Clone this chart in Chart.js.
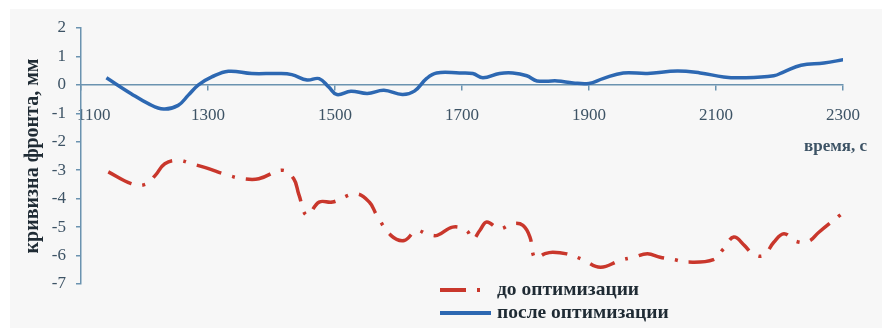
<!DOCTYPE html>
<html>
<head>
<meta charset="utf-8">
<script src="https://cdn.jsdelivr.net/npm/chart.js@4/dist/chart.umd.min.js"></script>
<style>
html, body { margin: 0; padding: 0; background: #fff; }
#wrap { position: relative; width: 882px; height: 328px; overflow: hidden; }
#paper { position: absolute; left: 10px; top: 9px; right: 0; bottom: 0; background: #f7f7f7; }
canvas { position: absolute; left: 0; top: 0; }
</style>
</head>
<body>
<div id="wrap">
  <div id="paper"></div>
  <canvas id="chart" width="882" height="328"></canvas>
</div>
<script>
// ===== ДАННЫЕ =====
// до оптимизации: время, с / кривизна, мм
const beforeTime = [1143, 1179, 1201, 1217, 1232, 1253, 1274, 1296, 1332, 1356, 1380, 1417, 1435, 1443,
    1456, 1475, 1496, 1533, 1554, 1566, 1588, 1609, 1628, 1644, 1661, 1685, 1707, 1717, 1728, 1739,
    1759, 1780, 1796, 1807, 1815, 1830, 1843, 1865, 1890, 1918, 1949, 1970, 1992, 2012, 2033, 2055,
    2096, 2112, 2128, 2145, 2158, 2175, 2191, 2207, 2226, 2246, 2262, 2297];
const beforeValue = [-3.06, -3.47, -3.50, -3.18, -2.77, -2.65, -2.77, -2.91, -3.18, -3.30, -3.30, -3.00, -3.30, -3.85,
    -4.59, -4.12, -4.12, -3.83, -4.12, -4.59, -5.29, -5.47, -5.12, -5.23, -5.29, -5.00, -5.12, -5.43, -5.12, -4.82,
    -5.06, -4.88, -4.94, -5.35, -6.09, -5.94, -5.88, -5.94, -6.14, -6.41, -6.17, -6.06, -5.94, -6.06, -6.14, -6.23,
    -6.14, -5.76, -5.35, -5.65, -5.94, -6.00, -5.53, -5.23, -5.50, -5.50, -5.18, -4.55];

// после оптимизации
const afterTime = [1140, 1179, 1206, 1230, 1253, 1269, 1285, 1306, 1332, 1369, 1411, 1432, 1456, 1475,
    1490, 1503, 1525, 1551, 1577, 1606, 1625, 1644, 1660, 1696, 1717, 1733, 1759, 1780, 1802, 1818,
    1850, 1875, 1900, 1922, 1954, 1992, 2039, 2075, 2112, 2139, 2191, 2207, 2234, 2270, 2302];
const afterValue = [0.25, -0.31, -0.66, -0.85, -0.72, -0.36, 0.00, 0.28, 0.48, 0.40, 0.40, 0.36, 0.17, 0.22,
    -0.07, -0.34, -0.22, -0.30, -0.19, -0.34, -0.22, 0.22, 0.42, 0.42, 0.40, 0.25, 0.40, 0.42, 0.32, 0.14,
    0.14, 0.07, 0.05, 0.22, 0.42, 0.40, 0.49, 0.42, 0.28, 0.25, 0.32, 0.46, 0.69, 0.77, 0.89];

const xTicks = [1100, 1300, 1500, 1700, 1900, 2100, 2300];
const yTicks = [2, 1, 0, -1, -2, -3, -4, -5, -6, -7];

const seriesLabels = ['до оптимизации', 'после оптимизации'];

// ===== СТИЛЬ =====
const serif = '"Liberation Serif", "Times New Roman", serif';
const axisColor = '#6b93b0';
const tickColor = '#3d5365';
const textColor = '#1f2b34';

function toPoints(xs, ys) {
    return xs.map((x, i) => ({ x, y: ys[i] }));
}

// подписи легенды и оси времени рисуются вручную
const extrasPlugin = {
    id: 'extras',
    afterDraw(chart) {
        const ctx = chart.ctx;
        const area = chart.chartArea;
        const yZero = chart.scales.y.getPixelForValue(0);

        ctx.save();
        ctx.fillStyle = tickColor;
        ctx.font = 'bold 17px ' + serif;
        ctx.textAlign = 'right';
        ctx.textBaseline = 'middle';
        ctx.fillText('время, с', area.right + 24, yZero + 62);

        chart.data.datasets.forEach((ds, i) => {
            const y = area.bottom + 6 + i * 23;
            const x0 = area.left + 359;
            ctx.strokeStyle = ds.borderColor;
            ctx.lineWidth = 4;
            ctx.lineCap = 'butt';
            ctx.setLineDash(ds.borderDash || []);
            ctx.beginPath();
            ctx.moveTo(x0, y);
            ctx.lineTo(x0 + 51, y);
            ctx.stroke();
            ctx.setLineDash([]);
            ctx.fillStyle = textColor;
            ctx.font = 'bold 19.5px ' + serif;
            ctx.textAlign = 'left';
            ctx.fillText(ds.label, x0 + 57, y);
        });
        ctx.restore();
    }
};

new Chart(document.getElementById('chart'), {
    type: 'line',
    data: {
        datasets: [
            {
                label: seriesLabels[0],
                data: toPoints(beforeTime, beforeValue),
                borderColor: '#c9372c',
                borderWidth: 3.5,
                borderDash: [26, 11, 3, 11],
                pointRadius: 0,
                tension: 0.4,
                fill: false,
            },
            {
                label: seriesLabels[1],
                data: toPoints(afterTime, afterValue),
                borderColor: '#2d68b2',
                borderWidth: 3.5,
                pointRadius: 0,
                tension: 0.4,
                fill: false,
            }
        ]
    },
    options: {
        responsive: false,
        animation: false,
        layout: { padding: { top: 28, right: 39, bottom: 44, left: 0 } },
        plugins: {
            legend: { display: false },
            tooltip: { enabled: false }
        },
        scales: {
            x: {
                type: 'linear',
                position: { y: 0 },
                min: 1100,
                max: 2300,
                afterBuildTicks: s => { s.ticks = xTicks.map(v => ({ value: v })); },
                afterFit: s => { s.height = 0; },
                border: { color: axisColor, width: 1.5 },
                grid: { drawOnChartArea: false, tickLength: 5, color: axisColor, lineWidth: 1.5 },
                ticks: {
                    padding: 15,
                    autoSkip: false,
                    maxRotation: 0,
                    color: tickColor,
                    font: { family: serif, size: 17 },
                    // первая подпись сдвинута вправо от оси, как в оригинале
                    callback: v => (v === xTicks[0] ? '      ' + v : String(v))
                }
            },
            y: {
                min: -7,
                max: 2,
                afterBuildTicks: s => { s.ticks = yTicks.map(v => ({ value: v })); },
                afterFit: s => { s.width = 81; },
                border: { color: axisColor, width: 1.5 },
                grid: { drawOnChartArea: false, tickLength: 5, color: axisColor, lineWidth: 1.5 },
                ticks: {
                    padding: 10,
                    color: tickColor,
                    font: { family: serif, size: 17 },
                    callback: v => String(v)
                },
                title: {
                    display: true,
                    text: 'кривизна фронта, мм',
                    color: textColor,
                    font: { family: serif, size: 20, weight: 'bold' },
                    padding: { top: 21, bottom: 0 }
                }
            }
        }
    },
    plugins: [extrasPlugin]
});
</script>
</body>
</html>
